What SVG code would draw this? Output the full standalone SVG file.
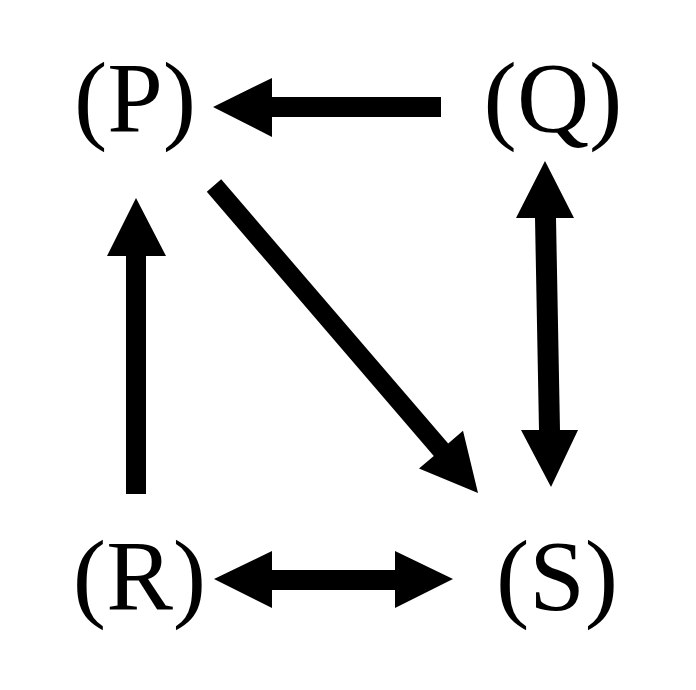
<svg xmlns="http://www.w3.org/2000/svg" width="696" height="690" viewBox="0 0 696 690">
<style>
.lbl{font-family:"Liberation Serif","Times New Roman",serif;font-size:100px;fill:#000;text-anchor:middle}
.arr{fill:#000;stroke:none}
</style>
<rect width="696" height="690" fill="#fff"/>
<g id="node-P"><text class="lbl" x="135" y="131">(P)</text></g>
<g id="node-Q"><text class="lbl" x="553" y="131">(Q)</text></g>
<g id="node-R"><text class="lbl" x="139.5" y="609">(R)</text></g>
<g id="node-S"><text class="lbl" x="557" y="609">(S)</text></g>
<g id="connectors">
<polygon class="arr" points="441,97 272,97 272,78 213,107 272,137 272,117 441,117"/>
<polygon class="arr" points="126,494 126,256 107,256 136,198 166,256 146,256 146,494"/>
<polygon class="arr" points="545,161 574,218 556,218 560,430 578,430 551,487 521,430 539,430 535,218 516,218"/>
<polygon class="arr" points="214,579 272,551 272,570 395,570 395,551 453,579 395,608 395,590 272,590 272,608"/>
<polygon class="arr" points="206.8,191.7 221.2,179.3 448.2,443.5 463,430.8 478,493 419,468.6 433.8,455.9"/>
</g>
</svg>
